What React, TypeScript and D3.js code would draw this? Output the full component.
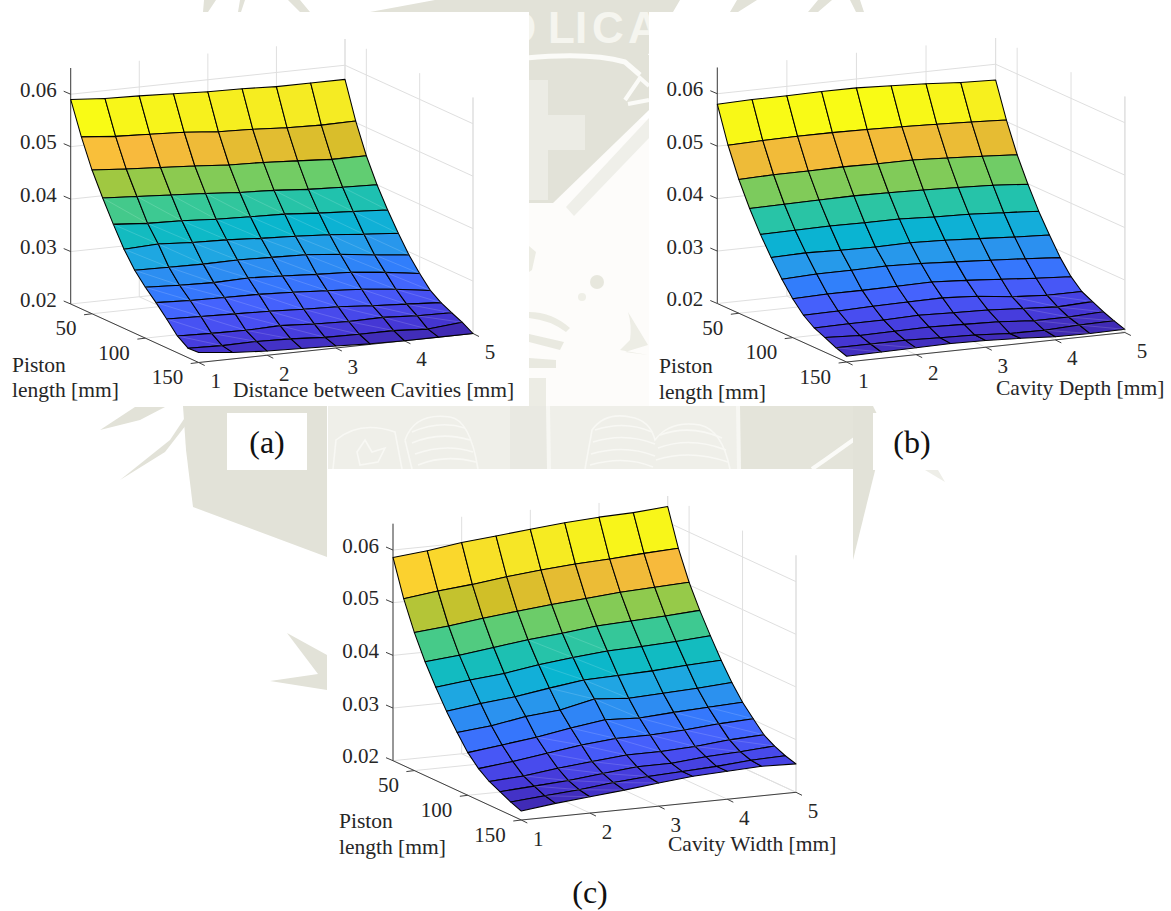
import React from 'react';
import * as d3 from 'd3';

// values
const cavityTicks = [1, 2, 3, 4, 5];
const pistonTicks = [50, 100, 150];
const heightTicks = [0.02, 0.03, 0.04, 0.05, 0.06];
const cavitySteps = [1, 1.5, 2, 2.5, 3, 3.5, 4, 4.5, 5];
const pistonSteps = [30, 40, 50, 60, 70, 80, 90, 100, 110, 120, 130, 140, 150];

// rows follow pistonSteps, columns follow cavitySteps
const surfaceA = [
  [.0590, .0585, .0583, .0580, .0577, .0576, .0573, .0573, .0573],
  [.0528, .0522, .0519, .0516, .0510, .0508, .0504, .0502, .0503],
  [.0474, .0469, .0465, .0461, .0456, .0454, .0450, .0446, .0446],
  [.0430, .0426, .0422, .0418, .0413, .0410, .0405, .0402, .0400],
  [.0389, .0384, .0382, .0378, .0376, .0374, .0369, .0365, .0361],
  [.0351, .0354, .0350, .0348, .0344, .0341, .0337, .0331, .0326],
  [.0320, .0319, .0318, .0319, .0317, .0315, .0309, .0301, .0294],
  [.0297, .0294, .0292, .0294, .0291, .0287, .0284, .0277, .0268],
  [.0277, .0274, .0273, .0272, .0269, .0265, .0261, .0254, .0245],
  [.0255, .0253, .0251, .0249, .0246, .0244, .0239, .0235, .0231],
  [.0232, .0230, .0229, .0231, .0227, .0225, .0226, .0222, .0221],
  [.0218, .0216, .0217, .0215, .0211, .0210, .0210, .0206, .0212],
  [.0219, .0212, .0208, .0206, .0204, .0201, .0200, .0200, .0200],
];

const surfaceB = [
  [.0580, .0582, .0582, .0583, .0583, .0580, .0577, .0572, .0570],
  [.0511, .0513, .0514, .0514, .0513, .0511, .0509, .0506, .0503],
  [.0455, .0457, .0457, .0458, .0457, .0457, .0454, .0450, .0446],
  [.0409, .0410, .0411, .0412, .0411, .0409, .0407, .0404, .0399],
  [.0369, .0370, .0371, .0370, .0370, .0367, .0365, .0361, .0357],
  [.0334, .0336, .0334, .0333, .0334, .0332, .0328, .0324, .0321],
  [.0302, .0305, .0305, .0306, .0304, .0300, .0296, .0292, .0287],
  [.0274, .0276, .0276, .0277, .0278, .0274, .0269, .0264, .0260],
  [.0252, .0253, .0255, .0256, .0257, .0253, .0245, .0241, .0241],
  [.0237, .0238, .0238, .0240, .0238, .0236, .0232, .0228, .0231],
  [.0228, .0225, .0226, .0227, .0225, .0223, .0218, .0218, .0221],
  [.0218, .0218, .0218, .0216, .0214, .0210, .0209, .0212, .0213],
  [.0211, .0212, .0213, .0214, .0213, .0210, .0206, .0205, .0206],
];

const surfaceC = [
  [.0586, .0592, .0601, .0607, .0613, .0619, .0623, .0625, .0630],
  [.0517, .0525, .0531, .0539, .0545, .0550, .0553, .0557, .0560],
  [.0462, .0468, .0476, .0483, .0489, .0494, .0499, .0502, .0505],
  [.0416, .0422, .0430, .0438, .0444, .0451, .0454, .0457, .0461],
  [.0377, .0384, .0390, .0400, .0407, .0413, .0415, .0418, .0422],
  [.0341, .0349, .0355, .0365, .0374, .0376, .0378, .0382, .0385],
  [.0310, .0316, .0327, .0333, .0347, .0342, .0345, .0348, .0352],
  [.0281, .0289, .0297, .0308, .0317, .0314, .0318, .0321, .0324],
  [.0260, .0267, .0276, .0285, .0291, .0291, .0294, .0299, .0302],
  [.0245, .0249, .0257, .0263, .0269, .0269, .0272, .0278, .0281],
  [.0235, .0239, .0243, .0250, .0256, .0256, .0262, .0265, .0269],
  [.0225, .0230, .0235, .0242, .0247, .0250, .0253, .0258, .0260],
  [.0217, .0225, .0231, .0237, .0244, .0250, .0253, .0256, .0254],
];

// every fourth entry of MATLAB's parula, as [index, r, g, b]
const parulaStops: number[][] = [
  [0, .2422, .1504, .6603], [4, .2706, .2147, .8364], [8, .2813, .3006, .9414],
  [12, .2699, .3892, .9906], [16, .1963, .4847, .9892], [20, .1687, .5703, .9359],
  [24, .1248, .6459, .8883], [28, .0297, .7082, .8163], [32, .0964, .75, .712],
  [36, .2161, .7843, .5923], [40, .3909, .8029, .4354], [44, .6174, .7876, .2612],
  [48, .8203, .7498, .1535], [52, .9728, .7298, .2394], [56, .9892, .8136, .1885],
  [60, .9597, .9135, .1423], [63, .9769, .9839, .0805],
];
const parula = d3.scaleLinear<string>()
  .domain(parulaStops.map(s => s[0] / 63))
  .range(parulaStops.map(s => d3.rgb(s[1] * 255, s[2] * 255, s[3] * 255).formatHex()))
  .clamp(true);

const SERIF = '"Liberation Serif", "Times New Roman", serif';
const INK = '#262626';
const GRID = '#dfdfdf';
const MARK = '#e2e2d8';

type Panel = {
  origin: number[]; // screen position of x=1, piston=30, height=0.02
  xVec: number[];
  yVec: number[];
  zPx: number;
  surface: number[][];
  seams: number[][]; // [rowFrom, rowTo, colFrom, colTo] cells with a pale diagonal
  pistonLabelX: number;
  pistonLabelY: number;
  xLabel: string;
  xLabelX: number;
  xLabelY: number;
};

const panels: Panel[] = [
  {
    origin: [70.7, 304], xVec: [274.3, -29], yVec: [128, 58.5], zPx: 236,
    surface: surfaceA, seams: [[3, 10, 0, 7]],
    pistonLabelX: 12, pistonLabelY: 371.5,
    xLabel: 'Distance between Cavities [mm]', xLabelX: 233, xLabelY: 397,
  },
  {
    origin: [717.3, 303.5], xVec: [278.3, -29.5], yVec: [129.3, 58.5], zPx: 236,
    surface: surfaceB, seams: [[8, 11, 6, 7], [11, 11, 0, 1]],
    pistonLabelX: 659, pistonLabelY: 373,
    xLabel: 'Cavity Depth [mm]', xLabelX: 996, xLabelY: 395,
  },
  {
    origin: [393, 760.7], xVec: [274.7, -27.7], yVec: [128.3, 59.3], zPx: 237,
    surface: surfaceC, seams: [[3, 5, 3, 4], [7, 8, 2, 5], [6, 6, 4, 4], [9, 11, 1, 3], [7, 9, 6, 7]],
    pistonLabelX: 339, pistonLabelY: 828,
    xLabel: 'Cavity Width [mm]', xLabelX: 668, xLabelY: 851,
  },
];

const xScale = d3.scaleLinear().domain([1, 5]).range([0, 1]);
const yScale = d3.scaleLinear().domain([30, 150]).range([0, 1]);
const zScale = d3.scaleLinear().domain([0.02, 0.065]).range([0, 1]);

const Surf = ({ p }: { p: Panel }) => {
  const project = (x: number, y: number, z: number): [number, number] => [
    p.origin[0] + xScale(x) * p.xVec[0] + yScale(y) * p.yVec[0],
    p.origin[1] + xScale(x) * p.xVec[1] + yScale(y) * p.yVec[1] - zScale(z) * p.zPx,
  ];
  const line = d3.line();
  const seg = (a: [number, number], b: [number, number]) => line([a, b]) as string;
  const flat = p.surface.flat();
  const color = d3.scaleLinear().domain(d3.extent(flat) as [number, number]).range([0, 1]);
  const [x0, x1] = [cavitySteps[0], cavitySteps[8]];
  const [y0, y1] = [pistonSteps[0], pistonSteps[12]];
  const [z0, z1] = zScale.domain();

  const hasSeam = (j: number, i: number) =>
    p.seams.some(s => j >= s[0] && j <= s[1] && i >= s[2] && i <= s[3]);

  return (
    <g>
      {/* back walls and floor grid */}
      <g stroke={GRID} strokeWidth={1} fill="none">
        {cavityTicks.map(x => <path key={`xw${x}`} d={seg(project(x, y0, z0), project(x, y0, z1))} />)}
        {cavityTicks.map(x => <path key={`xf${x}`} d={seg(project(x, y0, z0), project(x, y1, z0))} />)}
        {pistonTicks.map(y => <path key={`yw${y}`} d={seg(project(x1, y, z0), project(x1, y, z1))} />)}
        {pistonTicks.map(y => <path key={`yf${y}`} d={seg(project(x0, y, z0), project(x1, y, z0))} />)}
        {heightTicks.map(z => <path key={`zb${z}`} d={seg(project(x0, y0, z), project(x1, y0, z))} />)}
        {heightTicks.map(z => <path key={`zr${z}`} d={seg(project(x1, y0, z), project(x1, y1, z))} />)}
        <path d={seg(project(x1, y0, z0), project(x1, y0, z1))} />
        <path d={seg(project(x1, y1, z0), project(x1, y1, z1))} />
      </g>

      {/* axis lines and ticks */}
      <g stroke="#404040" strokeWidth={1} fill="none">
        <path d={seg(project(x0, y0, z0), project(x0, y0, z1))} />
        <path d={seg(project(x0, y0, z0), project(x0, y1, z0))} />
        <path d={seg(project(x0, y1, z0), project(x1, y1, z0))} />
        {heightTicks.map(z => {
          const a = project(x0, y0, z);
          return <path key={z} d={seg(a, [a[0] - 7, a[1] - 3])} />;
        })}
        {pistonTicks.map(y => {
          const a = project(x0, y, z0);
          return <path key={y} d={seg(a, [a[0] - 8, a[1] + 1])} />;
        })}
        {cavityTicks.map(x => {
          const a = project(x, y1, z0);
          return <path key={x} d={seg(a, [a[0] + 6, a[1] + 3])} />;
        })}
      </g>

      {/* facets, back row first */}
      <g stroke="#000" strokeWidth={1.05} strokeLinejoin="round">
        {pistonSteps.slice(0, -1).map((y, j) =>
          cavitySteps.slice(0, -1).map((x, i) => {
            const nx = cavitySteps[i + 1];
            const ny = pistonSteps[j + 1];
            const s = p.surface;
            const pts = [
              project(x, y, s[j][i]),
              project(nx, y, s[j][i + 1]),
              project(nx, ny, s[j + 1][i + 1]),
              project(x, ny, s[j + 1][i]),
            ];
            return (
              <path
                key={`${j}-${i}`}
                d={d3.line()(pts) + 'Z'}
                fill={parula(color(s[j][i]))}
              />
            );
          })
        )}
      </g>
      <g stroke="#fff" strokeOpacity={0.22} strokeWidth={0.7} fill="none">
        {pistonSteps.slice(0, -1).map((y, j) =>
          cavitySteps.slice(0, -1).map((x, i) =>
            hasSeam(j, i) ? (
              <path
                key={`${j}-${i}`}
                d={seg(
                  project(x, y, p.surface[j][i]),
                  project(cavitySteps[i + 1], pistonSteps[j + 1], p.surface[j + 1][i + 1])
                )}
              />
            ) : null
          )
        )}
      </g>

      {/* tick labels */}
      <g fontFamily={SERIF} fontSize={21} fill={INK}>
        {heightTicks.map(z => {
          const a = project(x0, y0, z);
          return (
            <text key={z} x={a[0] - 14} y={a[1] + 2.5} textAnchor="end">{z.toFixed(2)}</text>
          );
        })}
        {pistonTicks.map(y => {
          const a = project(x0, y, z0);
          return (
            <text key={y} x={a[0] - 15.5} y={a[1] + 21.5} textAnchor="end">{y}</text>
          );
        })}
        {cavityTicks.map(x => {
          const a = project(x, y1, z0);
          return (
            <text key={x} x={a[0] + 17} y={a[1] + 25.5} textAnchor="middle">{x}</text>
          );
        })}
      </g>
      <g fontFamily={SERIF} fontSize={21.5} fill={INK}>
        <text x={p.pistonLabelX} y={p.pistonLabelY}>Piston</text>
        <text x={p.pistonLabelX} y={p.pistonLabelY + 25.5}>length [mm]</text>
        <text x={p.xLabelX} y={p.xLabelY}>{p.xLabel}</text>
      </g>
    </g>
  );
};

// faint university crest behind the figures
const Watermark = () => (
  <g>
    {/* top band and lettering */}
    <path d="M370 12 L435 0 L680 0 L645 60 L529 60 L529 12Z" fill={MARK} />
    <path d="M204 0 L203 12 L208 12 L216 0Z M240 0 L238 12 L241 12 L245 0Z M288 0 L300 12 L310 12 L300 0Z M737 0 L730 12 L738 12 L757 0Z M818 0 L808 12 L818 12 L832 0Z M850 0 L856 12 L864 12 L860 0Z" fill={MARK} />
    <text x="375 410 462 502 548 575 592 628" y={43} fontFamily='"Liberation Sans", sans-serif' fontWeight="bold" fontSize={44} fill="#f5f5ef">CATOLICA</text>

    {/* centre column: shield corner, cross, diagonal bands */}
    <rect x={529} y={120} width={120} height={286} fill="#fdfcfa" />
    <path d="M529 55 L649 55 L649 110 L553 203 L529 203Z" fill={MARK} />
    <path d="M526 58 Q590 52 625 62 L640 75" fill="none" stroke="#fbfbf8" strokeWidth={5} />
    <path d="M529 80 L548 80 L548 115 L585 115 L585 150 L548 150 L548 200 L529 200Z" fill="#ecece5" />
    <path d="M625 100 L640 78 L649 86 M628 104 L649 100" fill="none" stroke="#fbfbf8" strokeWidth={4} />
    <path d="M566 207 L649 118 L649 138 L574 216Z" fill="#efefe9" />
    <circle cx={597} cy={282} r={7} fill="#e7e7dd" />
    <circle cx={582} cy={297} r={4} fill="#efefe7" />
    <path d="M529 246 L536 252 L532 270 L529 272Z" fill="#ecece3" />
    <path d="M529 312 Q552 312 570 328 L566 332 Q550 320 529 318Z" fill="#ebebe2" />
    <path d="M529 334 L564 342 L560 350 L529 342Z" fill="#e9e9e0" />
    <path d="M529 358 L556 360 L556 368 L529 368Z" fill="#e9e9e0" />
    <path d="M529 378 L546 378 L546 406 L529 406Z" fill="#ecece4" />
    <path d="M630 340 Q632 325 628 312 L648 345 L625 352 L648 355 L620 350Z" fill="#ededE5" />

    {/* strip between the upper figures and panel (c) */}
    <rect x={328} y={406} width={412} height={63} fill="#efefe9" />
    <rect x={510} y={406} width={40} height={63} fill="#e9e9e2" />
    <rect x={740} y={406} width={133} height={63} fill="#e4e4da" />
    <path d="M548 406 L549 469 M738 406 L739 469" stroke="#f7f7f3" strokeWidth={4} fill="none" />
    <path d="M860 406 L870 428 L825 460 L812 469" stroke="#fbfbf8" strokeWidth={4} fill="none" />
    <g stroke="#f8f8f4" strokeWidth={1.6} fill="none">
      <path d="M333 469 L336 440 Q360 420 395 432 L402 469" />
      <path d="M405 440 Q415 412 450 417 Q470 420 478 469 M405 440 L412 469" />
      <path d="M412 432 Q440 420 465 428 M412 443 Q440 431 470 440 M415 454 Q445 443 473 452 M418 465 Q445 454 476 462" />
      <path d="M365 440 L372 452 L385 448 L378 462 L360 465 L357 452Z" />
      <path d="M585 469 L592 430 Q605 412 630 417 Q650 420 655 440 Q670 420 700 425 Q722 430 730 469" />
      <path d="M595 430 Q625 420 652 432 M593 442 Q625 432 655 444 M591 454 Q625 444 655 456 M590 465 Q625 455 653 467 M660 435 Q690 424 722 438 M658 448 Q690 436 726 450 M656 460 Q690 449 728 462" />
    </g>

    {/* left and right of the strip */}
    <path d="M183 406 L186 450 L193 507 L327 557 L327 406Z" fill={MARK} />
    <path d="M873 406 L885 430 L853 560 L853 406Z" fill={MARK} />
    <path d="M100 430 L135 407 L165 407 L140 420Z M120 480 L170 440 L192 407 L200 407 L165 452Z" fill={MARK} />
    <path d="M287 633 L327 655 L327 690 L270 681 L318 674Z" fill={MARK} />
    <path d="M925 470 L945 482 L938 470Z" fill="#eeeee8" />
  </g>
);

const App = () => (
  <svg
    width={1171}
    height={911}
    style={{ position: 'absolute', left: 0, top: 0, background: '#fff' }}
  >
    <Watermark />
    {/* white patches the figures were pasted on */}
    <rect x={0} y={12} width={529} height={394} fill="#fff" />
    <rect x={649} y={12} width={522} height={394} fill="#fff" />
    <rect x={227} y={413} width={80} height={57} fill="#fff" />
    <rect x={873} y={413} width={80} height={57} fill="#fff" />
    <rect x={327} y={469} width={526} height={400} fill="#fff" />
    {panels.map((p, k) => <Surf key={k} p={p} />)}
    <g fontFamily={SERIF} fontSize={32} fill="#111" textAnchor="middle">
      <text x={267} y={453}>(a)</text>
      <text x={912} y={453}>(b)</text>
      <text x={590} y={903}>(c)</text>
    </g>
  </svg>
);

export default App;
